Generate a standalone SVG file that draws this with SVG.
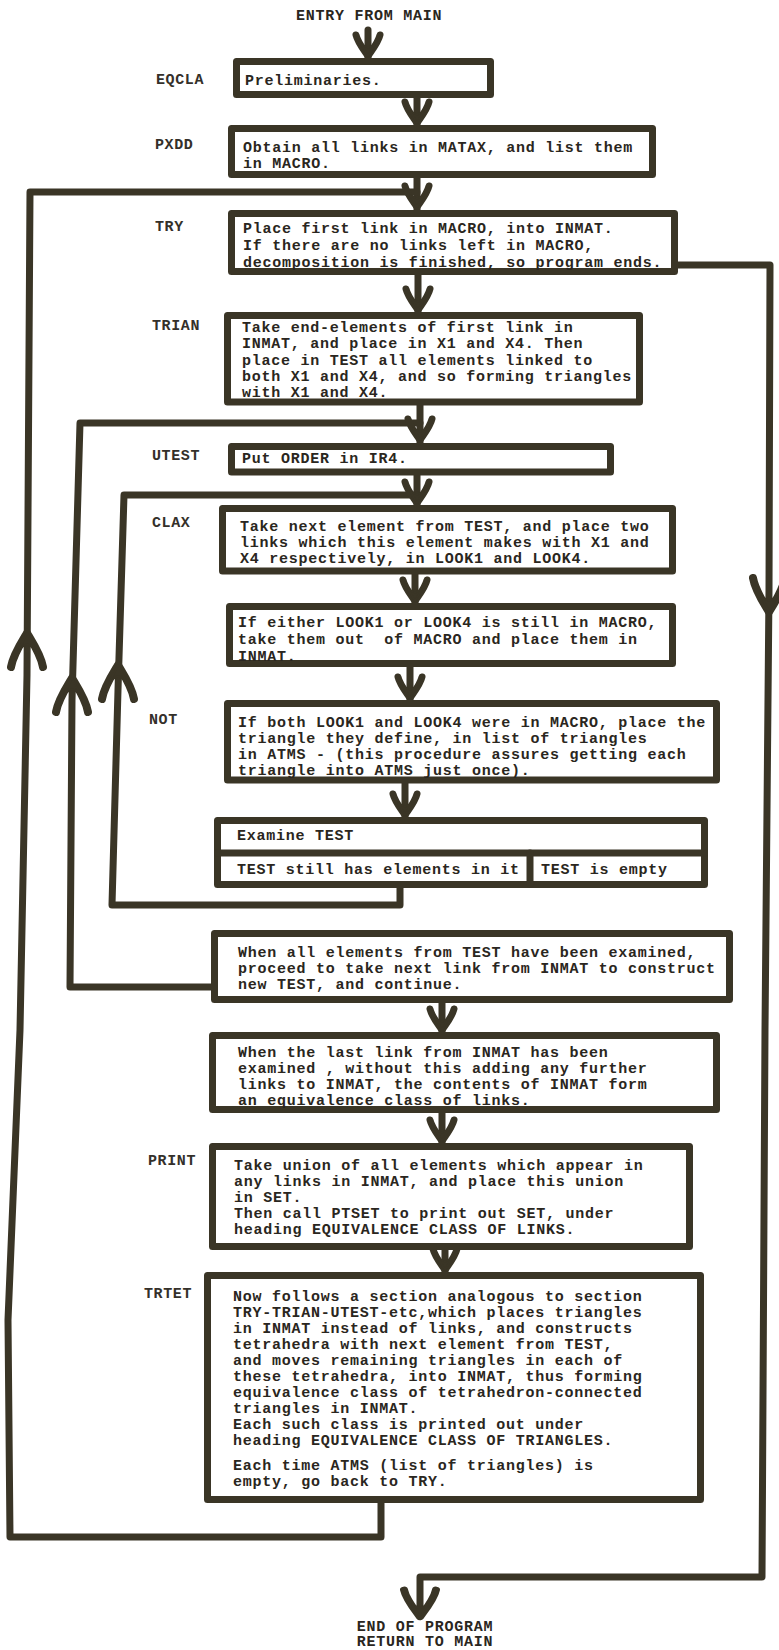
<svg xmlns="http://www.w3.org/2000/svg" xmlns:xlink="http://www.w3.org/1999/xlink" width="779" height="1650" viewBox="0 0 779 1650">
<style>
.bx{fill:#fff;stroke:#3a3526;stroke-width:7;stroke-linejoin:round}
.ln{fill:none;stroke:#3a3526;stroke-width:7;stroke-linejoin:round;stroke-linecap:round}
.t{font-family:"Liberation Mono","Courier New",monospace;font-size:15px;font-weight:bold;letter-spacing:0.75px;fill:#2a2620;white-space:pre}
.lb{font-family:"Liberation Mono","Courier New",monospace;font-size:15px;font-weight:bold;letter-spacing:0.6px;fill:#34302a}
.ah{fill:#3a3526;stroke:#3a3526;stroke-linecap:round;stroke-linejoin:round}
</style>
<defs>
<g id="ad" class="ah"><path d="M-12,-21 C-10,-13 -4,-6 0,0 C4,-6 10,-13 12,-21" fill="none" stroke-width="7"/><path d="M-7,-12 L0,0 L7,-12 L0,-8 Z" stroke-width="2"/></g>
<g id="au" class="ah"><path d="M-16,34 C-14,22 -6,10 0,0 C6,10 14,22 16,34" fill="none" stroke-width="8"/><path d="M-8,16 L0,0 L8,16 L0,11 Z" stroke-width="2"/></g>
</defs>

<g id="connectors">
<line class="ln" x1="368" y1="30" x2="368" y2="58"/>
<line class="ln" x1="417" y1="98" x2="417" y2="125"/>
<line class="ln" x1="417" y1="178" x2="417" y2="210"/>
<line class="ln" x1="418" y1="275" x2="418" y2="312"/>
<line class="ln" x1="420" y1="405" x2="420" y2="443"/>
<line class="ln" x1="417" y1="475" x2="417" y2="505"/>
<line class="ln" x1="415" y1="574" x2="415" y2="603"/>
<line class="ln" x1="410" y1="667" x2="410" y2="700"/>
<line class="ln" x1="405" y1="783" x2="405" y2="817"/>
<line class="ln" x1="442" y1="1003" x2="442" y2="1032"/>
<line class="ln" x1="442" y1="1113" x2="442" y2="1143"/>
<line class="ln" x1="445" y1="1250" x2="445" y2="1272"/>
<polyline class="ln" points="381,1503 381,1537 10,1537 8,1320 20,1030 27,675 30,192 417,192"/>
<polyline class="ln" points="214,987 70,987 72,700 80,423 420,423"/>
<polyline class="ln" points="400,888 400,905 112,905 118,690 124,495 417,495"/>
<polyline class="ln" points="678,265 770,265 769,590 765,1030 762,1577 420,1577 420,1610"/>
<use xlink:href="#ad" transform="translate(368,56)"/>
<use xlink:href="#ad" transform="translate(417,123)"/>
<use xlink:href="#ad" transform="translate(417,207)"/>
<use xlink:href="#ad" transform="translate(418,310)"/>
<use xlink:href="#ad" transform="translate(420,440)"/>
<use xlink:href="#ad" transform="translate(417,503)"/>
<use xlink:href="#ad" transform="translate(415,601)"/>
<use xlink:href="#ad" transform="translate(410,698)"/>
<use xlink:href="#ad" transform="translate(405,815)"/>
<use xlink:href="#ad" transform="translate(442,1030)"/>
<use xlink:href="#ad" transform="translate(442,1141)"/>
<use xlink:href="#ad" transform="translate(445,1270)"/>
<use xlink:href="#au" transform="translate(27,633)"/>
<use xlink:href="#au" transform="translate(72,678)"/>
<use xlink:href="#au" transform="translate(118,665)"/>
<use xlink:href="#au" transform="translate(769,612) scale(1,-1)"/>
<use xlink:href="#au" transform="translate(420,1617) scale(1,-0.8)"/>
</g>

<g id="entry"><text class="t" x="296" y="20">ENTRY FROM MAIN</text></g>

<g id="eqcla">
<text class="lb" x="156" y="84">EQCLA</text>
<rect class="bx" x="236.5" y="61.5" width="254" height="33"/>
<text class="t" x="245" y="85">Preliminaries.</text>
</g>

<g id="pxdd">
<text class="lb" x="155" y="149">PXDD</text>
<rect class="bx" x="231.5" y="128.5" width="421" height="46"/>
<text class="t" x="243" y="152">Obtain all links in MATAX, and list them</text>
<text class="t" x="243" y="168">in MACRO.</text>
</g>

<g id="try">
<text class="lb" x="155" y="231">TRY</text>
<rect class="bx" x="231.5" y="213.5" width="443" height="58"/>
<text class="t" x="243" y="233">Place first link in MACRO, into INMAT.</text>
<text class="t" x="243" y="250">If there are no links left in MACRO,</text>
<text class="t" x="243" y="267">decomposition is finished, so program ends.</text>
</g>

<g id="trian">
<text class="lb" x="152" y="330">TRIAN</text>
<rect class="bx" x="227.5" y="315.5" width="412" height="86.5"/>
<text class="t" x="242" y="332">Take end-elements of first link in</text>
<text class="t" x="242" y="348">INMAT, and place in X1 and X4. Then</text>
<text class="t" x="242" y="365">place in TEST all elements linked to</text>
<text class="t" x="242" y="381">both X1 and X4, and so forming triangles</text>
<text class="t" x="242" y="397">with X1 and X4.</text>
</g>

<g id="utest">
<text class="lb" x="152" y="460">UTEST</text>
<rect class="bx" x="231.5" y="446.5" width="379" height="25.5"/>
<text class="t" x="242" y="463">Put ORDER in IR4.</text>
</g>

<g id="clax">
<text class="lb" x="152" y="527">CLAX</text>
<rect class="bx" x="222.5" y="508.5" width="450" height="62.5"/>
<text class="t" x="240" y="531">Take next element from TEST, and place two</text>
<text class="t" x="240" y="547">links which this element makes with X1 and</text>
<text class="t" x="240" y="563">X4 respectively, in LOOK1 and LOOK4.</text>
</g>

<g id="look">
<rect class="bx" x="229.5" y="606.5" width="443" height="57"/>
<text class="t" x="238" y="627">If either LOOK1 or LOOK4 is still in MACRO,</text>
<text class="t" x="238" y="644">take them out  of MACRO and place them in</text>
<text class="t" x="238" y="661">INMAT.</text>
</g>

<g id="not">
<text class="lb" x="149" y="724">NOT</text>
<rect class="bx" x="227.5" y="703.5" width="489" height="76.5"/>
<text class="t" x="238" y="727">If both LOOK1 and LOOK4 were in MACRO, place the</text>
<text class="t" x="238" y="743">triangle they define, in list of triangles</text>
<text class="t" x="238" y="759">in ATMS - (this procedure assures getting each</text>
<text class="t" x="238" y="775">triangle into ATMS just once).</text>
</g>

<g id="examine">
<rect class="bx" x="217.5" y="820.5" width="487" height="64"/>
<line class="ln" x1="217.5" y1="853" x2="704.5" y2="853"/>
<line class="ln" x1="530" y1="853" x2="530" y2="884"/>
<text class="t" x="237" y="840">Examine TEST</text>
<text class="t" x="237" y="874">TEST still has elements in it</text>
<text class="t" x="541" y="874">TEST is empty</text>
</g>

<g id="whenall">
<rect class="bx" x="214.5" y="933.5" width="515" height="66"/>
<text class="t" x="238" y="957">When all elements from TEST have been examined,</text>
<text class="t" x="238" y="973">proceed to take next link from INMAT to construct</text>
<text class="t" x="238" y="989">new TEST, and continue.</text>
</g>

<g id="whenlast">
<rect class="bx" x="212.5" y="1035.5" width="504" height="74"/>
<text class="t" x="238" y="1057">When the last link from INMAT has been</text>
<text class="t" x="238" y="1073">examined , without this adding any further</text>
<text class="t" x="238" y="1089">links to INMAT, the contents of INMAT form</text>
<text class="t" x="238" y="1105">an equivalence class of links.</text>
</g>

<g id="print">
<text class="lb" x="148" y="1165">PRINT</text>
<rect class="bx" x="212.5" y="1146.5" width="477" height="100"/>
<text class="t" x="234" y="1170">Take union of all elements which appear in</text>
<text class="t" x="234" y="1186">any links in INMAT, and place this union</text>
<text class="t" x="234" y="1202">in SET.</text>
<text class="t" x="234" y="1218">Then call PTSET to print out SET, under</text>
<text class="t" x="234" y="1234">heading EQUIVALENCE CLASS OF LINKS.</text>
</g>

<g id="trtet">
<text class="lb" x="144" y="1298">TRTET</text>
<rect class="bx" x="207.5" y="1275.5" width="493" height="224"/>
<text class="t" x="233" y="1301">Now follows a section analogous to section</text>
<text class="t" x="233" y="1317">TRY-TRIAN-UTEST-etc,which places triangles</text>
<text class="t" x="233" y="1333">in INMAT instead of links, and constructs</text>
<text class="t" x="233" y="1349">tetrahedra with next element from TEST,</text>
<text class="t" x="233" y="1365">and moves remaining triangles in each of</text>
<text class="t" x="233" y="1381">these tetrahedra, into INMAT, thus forming</text>
<text class="t" x="233" y="1397">equivalence class of tetrahedron-connected</text>
<text class="t" x="233" y="1413">triangles in INMAT.</text>
<text class="t" x="233" y="1429">Each such class is printed out under</text>
<text class="t" x="233" y="1445">heading EQUIVALENCE CLASS OF TRIANGLES.</text>
<text class="t" x="233" y="1470">Each time ATMS (list of triangles) is</text>
<text class="t" x="233" y="1486">empty, go back to TRY.</text>
</g>

<g id="end">
<text class="t" x="425" y="1631" text-anchor="middle">END OF PROGRAM</text>
<text class="t" x="425" y="1646" text-anchor="middle">RETURN TO MAIN</text>
</g>
</svg>
